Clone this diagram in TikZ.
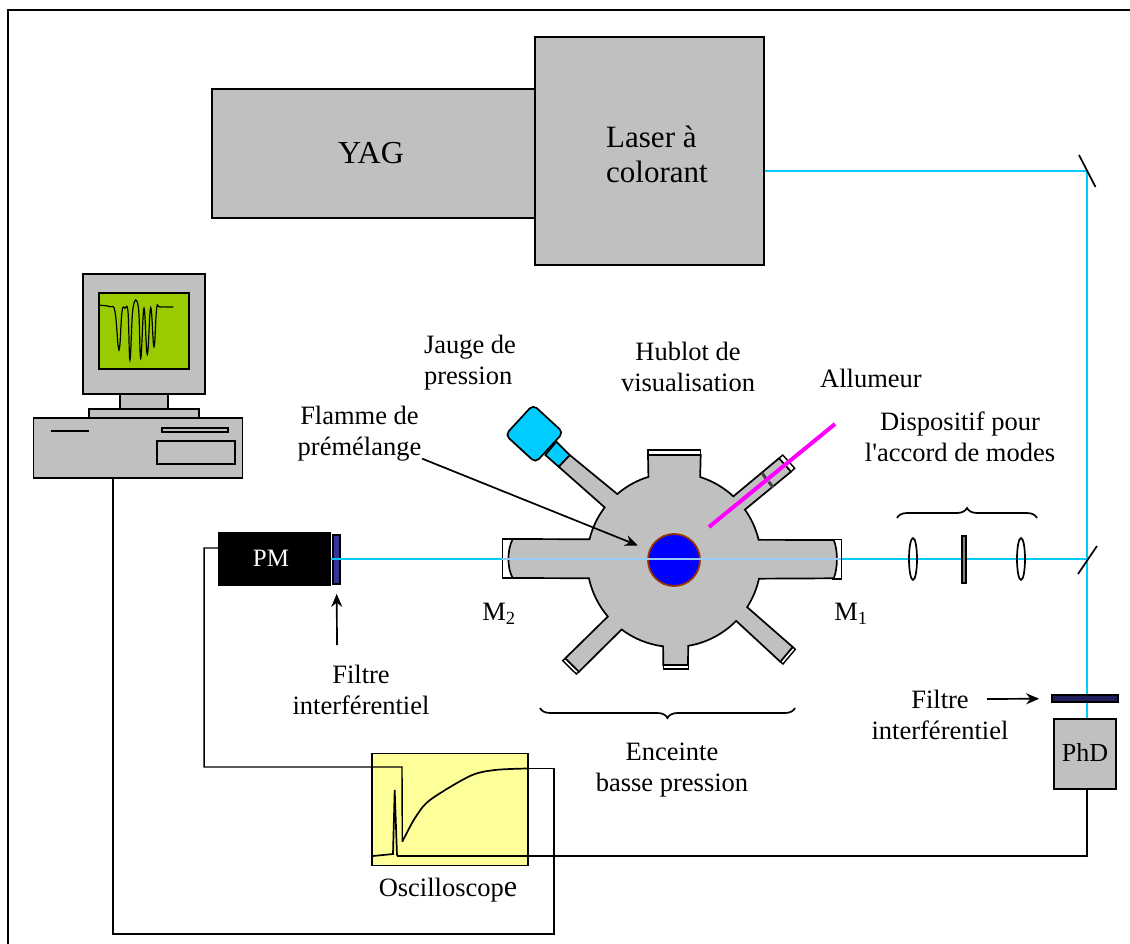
\documentclass[tikz,border=0pt]{standalone}
\usepackage{fontspec}
\setmainfont{Liberation Serif}
\usetikzlibrary{arrows.meta, decorations.pathreplacing}

\definecolor{boxgray}{RGB}{192,192,192}
\definecolor{beamcyan}{RGB}{0,204,255}
\definecolor{beamlight}{RGB}{153,204,255}
\definecolor{screengreen}{RGB}{153,204,0}
\definecolor{scopeyellow}{RGB}{255,255,153}
\definecolor{flamered}{RGB}{153,51,0}
\definecolor{filternavy}{RGB}{51,51,153}
\definecolor{ignitor}{RGB}{255,0,255}

\begin{document}
\begin{tikzpicture}[
    x = 1pt, y = -1pt, % pixels of the page
    > = {Stealth[length = 13pt, width = 11pt]}, % arrow head style
    line width = 1.7pt % line style
]

\tikzstyle{box}=[
    draw = black,
    fill = boxgray,
    rectangle,
    inner sep = 0pt
]
\tikzstyle{label}=[
    align = center,
    inner sep = 0pt,
    font = \fontsize{26.5}{31}\selectfont
]
\tikzstyle{beam}=[draw = beamcyan, line width = 2pt]
\tikzstyle{window}=[draw = black, fill = white, line width = 1.4pt]

\useasboundingbox (0,0) rectangle (1130,944);
\draw[line width = 2pt] (7.5,944) -- (7.5,10.5) -- (1130,10.5);

% lasers
\node[box, minimum width = 323pt, minimum height = 129pt] (YAG) at (373.5,153.5) {};
\node[box, minimum width = 229pt, minimum height = 228pt] (Laser) at (649.5,151) {};
\node[label, font = \fontsize{32}{37}\selectfont] (YAG Label) at (371,153) {YAG};
\node[label, align = left, font = \fontsize{31}{35}\selectfont] (Laser Label) at (657,154) {Laser à\\colorant};

% detectors
\node[box, fill = black, text = white, minimum width = 111pt, minimum height = 52pt, font = \fontsize{25}{30}\selectfont] (PM) at (274.5,559) {\raisebox{2pt}{PM}\hspace*{7pt}};
\node[box, fill = filternavy, minimum width = 7pt, minimum height = 49pt] (PM Filter) at (336.5,559.5) {};
\node[box, minimum width = 62pt, minimum height = 70pt, font = \fontsize{26}{30}\selectfont] (PhD) at (1085,754) {\raisebox{4pt}{PhD}};

% beams
\coordinate (Mirror Top) at (1087,171);
\coordinate (Mirror Low) at (1087,559);
\path[beam] (Laser.east |- Mirror Top) -- (Mirror Top) -- (PhD.north -| Mirror Top);
\path[beam] (PM.east |- Mirror Low) -- (Mirror Low);
\draw (1079,155) -- (1095.5,187);
\draw (1078,574) -- (1097,546);
\node[box, fill = filternavy!60!black, minimum width = 66pt, minimum height = 7pt] (PhD Filter) at (1085,698.5) {};

% mode matching
\draw (913,559) ellipse (4 and 21);
\draw (1021,559) ellipse (4 and 21);
\node[box, fill = gray, minimum width = 3.5pt, minimum height = 47pt] (Plate) at (964,559.5) {};
\draw[decorate, decoration = {brace, amplitude = 10pt}] (897,518) -- (1037,518);
\draw[decorate, decoration = {brace, amplitude = 10pt}] (795,708) -- (540,708);

% chamber
\begin{scope}[shift = {(674,560)}, y = 1pt]
    \draw[window] (-26,110) rectangle (26.7,105);
    \draw[window] (108.7,105) -- (120.7,91.7) -- (117,88.3) -- (105,101.7) -- cycle;
    \draw[window] (159,20.7) rectangle (167.3,-19);
    \draw[window] (121.3,-89.3) -- (109,-104) -- (106.3,-101.7) -- (118.7,-87) -- cycle;
    \draw[window] (-10.7,-105) rectangle (14.7,-109);
    \draw[window] (-111.3,-100.7) -- (-97.7,-114) -- (-95,-111.7) -- (-108.7,-98.3) -- cycle;
    \draw[window] (-171.3,21) rectangle (-161.3,-18);
    \draw[fill = boxgray] (107.1:87) -- (-26,105) -- (26.7,105) -- (72.5:87)
        arc[start angle = 72.5, end angle = 47, radius = 87]
        -- (105,101.7) -- (117,88.3) -- (35.4:87)
        arc[start angle = 35.4, end angle = 13.4, radius = 87]
        -- (159.7,20) .. controls (164,10) and (164,-8) .. (159.7,-18.3) -- (-12.4:87)
        arc[start angle = -12.4, end angle = -32.8, radius = 87]
        -- (118.7,-87) -- (106.3,-101.7) -- (-44.4:87)
        arc[start angle = -44.4, end angle = -80.6, radius = 87]
        -- (14,-105) -- (-10.7,-105) -- (-97.2:87)
        arc[start angle = -97.2, end angle = -127, radius = 87]
        -- (-95,-111.7) -- (-108.7,-98.3) -- (-139.5:87)
        arc[start angle = -139.5, end angle = -167.9, radius = 87]
        -- (-161.3,-18) .. controls (-167,-8) and (-167,10) .. (-161.3,21) -- (166.2:87)
        arc[start angle = 166.2, end angle = 142.8, radius = 87]
        -- (-115.3,93.3) -- (-104.3,105) -- (130.7:87)
        arc[start angle = 130.7, end angle = 107.1, radius = 87] -- cycle;
    \draw[fill = beamcyan] (-128.7,105) -- (-115.3,93.3) -- (-104.3,105) -- (-117.7,118.3) -- cycle;
    \node[draw = black, fill = beamcyan, rectangle, rounded corners = 5pt, inner sep = 0pt, minimum size = 41pt, rotate = -42.6] (Gauge) at (-139.7,126.3) {};
    \draw[line width = 3pt, black!75] (88,87.3) -- (92.3,80.7);
    \draw[line width = 3pt, black!75] (94.7,78.3) -- (99,72.7);
    \node[circle, draw = flamered, fill = blue, line width = 1.8pt, inner sep = 0pt, minimum size = 52pt] (Flame) at (0,0) {};
\end{scope}
\draw[draw = beamlight, line width = 1.6pt] (502,559) -- (841,559);
\draw[draw = ignitor, line width = 4pt] (709,527) -- (835,424);

% computer
\node[box, minimum width = 122pt, minimum height = 120pt] (Monitor) at (144,334) {};
\node[box, fill = screengreen, minimum width = 90pt, minimum height = 76pt] (Screen) at (144,331) {};
\node[box, minimum width = 48pt, minimum height = 16pt] (Neck) at (144,402) {};
\node[box, minimum width = 110pt, minimum height = 9pt] (Stand) at (144,413.5) {};
\node[box, minimum width = 209pt, minimum height = 60pt] (Computer) at (138,448) {};
\node[box, minimum width = 66pt, minimum height = 4pt] (Slot) at (195,430) {};
\node[box, minimum width = 78pt, minimum height = 23pt] (Drawer) at (196,452.5) {};
\draw (50.7,431) -- (89,431);
\draw[line width = 1.2pt] plot[smooth, tension = 0.7] coordinates {(100,305.3) (110,306.7) (115,311.7) (119,350) (122,311.7) (125,308.3) (128,311.7) (130,360) (133,308.3) (138.3,306.7) (140.7,358.3) (144,308.3) (147.3,354.3) (150.7,307.7) (154,346.7) (156.7,308.3) (160,307) (173.3,307)};

% oscilloscope
\node[box, fill = scopeyellow, minimum width = 156pt, minimum height = 112pt] (Scope) at (450,809.5) {};
\coordinate (Trace In) at (402,767);
\coordinate (Trace Start) at (402.3,841.7);
\coordinate (Trace End) at (527,768.5);
\coordinate (Spike Low) at (397,855.5);
\coordinate (PC Corner) at (113,934);
\coordinate (Scope Corner) at (554,934);
\draw plot[smooth, tension = 0.5] coordinates {(Trace Start) (415,818) (430,800) (470,776) (495,770) (Trace End)};
\draw (373,856) -- (393,854) -- (394.7,790) -- (Spike Low);

% signals
\draw[line width = 1.4pt] ([yshift = 11pt]PM.west) -- ++(-14,0) |- (Trace In) -- (Trace Start);
\draw[line width = 2pt] (PhD.south -| Mirror Top) |- (Spike Low);
\draw[line width = 1.4pt] ([xshift = -25pt]Computer.south) -- (PC Corner) -- (Scope Corner) |- (Trace End);

% labels
\node[label, align = left] (Jauge Label) at (470,362.5) {Jauge de\\pression};
\node[label] (Hublot Label) at (688,367) {Hublot de\\visualisation};
\node[label] (Allumeur Label) at (871,378) {Allumeur};
\node[label] (Flamme Label) at (359.5,433.5) {Flamme de\\prémélange};
\node[label] (Modes Label) at (960,437) {Dispositif pour\\l\textquotesingle accord de modes};
\node[label] (M2 Label) at (499,614) {M\textsubscript{2}};
\node[label] (M1 Label) at (851,614) {M\textsubscript{1}};
\node[label] (Filtre PM Label) at (361,690) {Filtre\\interférentiel};
\node[label] (Filtre PhD Label) at (940,715) {Filtre\\interférentiel};
\node[label] (Enceinte Label) at (672,770) {Enceinte\\basse pression};
\node[label] (Scope Label) at (448,890) {Oscilloscop{\fontsize{30}{30}\selectfont e}};

\coordinate (Filtre PM Start) at (337,645);
\coordinate (Filtre PhD Start) at (987,699);
\path[->, draw, shorten > = 12pt] (Flamme Label) -- (Flame);
\path[->, draw, shorten > = 9pt] (Filtre PM Start) -- (PM Filter);
\path[->, draw, shorten > = 12pt] (Filtre PhD Start) -- (PhD Filter);

\end{tikzpicture}
\end{document}
